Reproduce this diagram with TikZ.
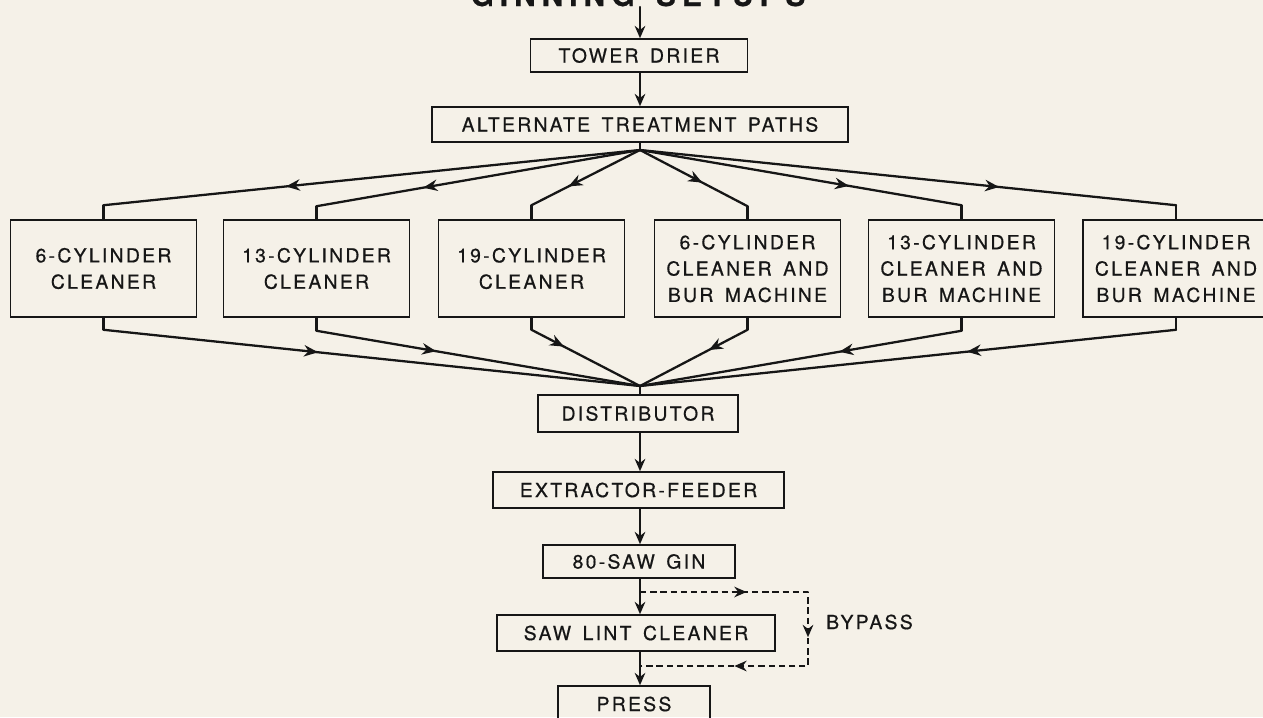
\documentclass[tikz,border=0pt]{standalone}
\usepackage{fontspec}
\setmainfont[LetterSpace=12,WordSpace=1.5,FakeBold=0.6]{TeX Gyre Heros}
\usetikzlibrary{arrows.meta}
\usetikzlibrary{decorations.markings}
\definecolor{paper}{RGB}{245,241,232}
\definecolor{ink}{RGB}{22,22,22}
\tikzset{midarrow/.style={postaction={decorate,decoration={markings,
  mark=at position #1 with {\arrow{Stealth[length=8pt,width=6.5pt]}}}}}}

\begin{document}
\begin{tikzpicture}[x=0.02cm, y=-0.02cm]

\tikzstyle{box}=[draw=ink, line width=0.9pt, inner sep=0pt, text=ink, align=center, font=\fontsize{11}{15}\selectfont]
\tikzstyle{unit}=[box, minimum width=3.72cm, minimum height=1.94cm]
\tikzstyle{flow}=[draw=ink, line width=1.3pt, line cap=round, line join=round]
\tikzstyle{into}=[flow, -{Stealth[length=7pt,width=6pt]}]
\tikzstyle{bydash}=[flow, line cap=butt, dash pattern=on 3.6pt off 2.2pt,
  postaction={decorate,decoration={markings,
    mark=at position 0.26 with {\arrow{Stealth[length=7pt,width=6pt]}},
    mark=at position 0.52 with {\arrow{Stealth[length=7pt,width=6pt]}},
    mark=at position 0.77 with {\arrow{Stealth[length=7pt,width=6pt]}}}}]

\fill[paper] (0,0) rectangle (1263,717);
\useasboundingbox (0,0) rectangle (1263,717);

\node[anchor=base, text=ink, font=\bfseries\fontsize{17}{17}\selectfont\addfontfeatures{LetterSpace=20}] at (638,6) (title) {GINNING SETUPS};

% main line, top
\node[box, minimum width=4.34cm, minimum height=0.66cm] at (639,55.5) (tower) {TOWER DRIER};
\node[box, minimum width=8.32cm, minimum height=0.70cm] at (640,124.5) (alt) {ALTERNATE TREATMENT PATHS};

\coordinate (feed) at (640,7);
\coordinate (fan) at (640,150);
\coordinate (col) at (640,386);

\draw[into] (feed) -- (tower.north -| fan);
\draw[into] (tower.south -| fan) -- (alt.north -| fan);
\draw[flow] (alt.south -| fan) -- (fan);

% the six cleaners
\node[unit] at (103.5,268.5) (c6) {6-CYLINDER\\CLEANER};
\node[unit] at (316.5,268.5) (c13) {13-CYLINDER\\CLEANER};
\node[unit] at (531.5,268.5) (c19) {19-CYLINDER\\CLEANER};
\node[unit] at (747.5,268.5) (b6) {6-CYLINDER\\CLEANER AND\\BUR MACHINE};
\node[unit] at (961.5,268.5) (b13) {13-CYLINDER\\CLEANER AND\\BUR MACHINE};
\node[unit] at (1176,268.5) (b19) {19-CYLINDER\\CLEANER AND\\BUR MACHINE};

\coordinate (c6in) at ([yshift=0.28cm]c6.north);
\coordinate (c13in) at ([yshift=0.26cm]c13.north);
\coordinate (c19in) at ([yshift=0.28cm]c19.north);
\coordinate (b6in) at ([yshift=0.26cm]b6.north);
\coordinate (b13in) at ([yshift=0.28cm]b13.north);
\coordinate (b19in) at ([yshift=0.28cm]b19.north);

\coordinate (c6out) at ([yshift=-0.24cm]c6.south);
\coordinate (c13out) at ([yshift=-0.26cm]c13.south);
\coordinate (c19out) at ([yshift=-0.24cm]c19.south);
\coordinate (b6out) at ([yshift=-0.24cm]b6.south);
\coordinate (b13out) at ([yshift=-0.26cm]b13.south);
\coordinate (b19out) at ([yshift=-0.24cm]b19.south);

% out of the fan
\draw[flow, midarrow=0.66] (fan) -- (c6in);
\draw[flow, midarrow=0.67] (fan) -- (c13in);
\draw[flow, midarrow=0.66] (fan) -- (c19in);
\draw[flow, midarrow=0.58] (fan) -- (b6in);
\draw[flow, midarrow=0.65] (fan) -- (b13in);
\draw[flow, midarrow=0.67] (fan) -- (b19in);

\draw[flow] (c6in) -- (c6.north) (c6.south) -- (c6out);
\draw[flow] (c13in) -- (c13.north) (c13.south) -- (c13out);
\draw[flow] (c19in) -- (c19.north) (c19.south) -- (c19out);
\draw[flow] (b6in) -- (b6.north) (b6.south) -- (b6out);
\draw[flow] (b13in) -- (b13.north) (b13.south) -- (b13out);
\draw[flow] (b19in) -- (b19.north) (b19.south) -- (b19out);

% back together
\draw[flow, midarrow=0.40] (c6out) -- (col);
\draw[flow, midarrow=0.37] (c13out) -- (col);
\draw[flow, midarrow=0.30] (c19out) -- (col);
\draw[flow, midarrow=0.36] (b6out) -- (col);
\draw[flow, midarrow=0.38] (b13out) -- (col);
\draw[flow, midarrow=0.39] (b19out) -- (col);

% main line, bottom
\node[box, minimum width=4.00cm, minimum height=0.74cm] at (638,413.5) (dist) {DISTRIBUTOR};
\node[box, minimum width=5.82cm, minimum height=0.72cm] at (638.5,490) (extr) {EXTRACTOR-FEEDER};
\node[box, minimum width=3.84cm, minimum height=0.66cm] at (639,561.5) (gin) {80-SAW GIN};
\node[box, minimum width=5.56cm, minimum height=0.72cm] at (636,633) (slc) {SAW LINT CLEANER};
\node[box, minimum width=3.04cm, minimum height=0.72cm] at (634,704) (press) {PRESS};

\draw[flow] (col) -- (dist.north -| fan);
\draw[into] (dist.south -| fan) -- (extr.north -| fan);
\draw[into] (extr.south -| fan) -- (gin.north -| fan);
\draw[into] (gin.south -| fan) -- (slc.north -| fan);
\draw[into] (slc.south -| fan) -- (press.north -| fan);

% bypass
\coordinate (bpin) at (640,592);
\coordinate (bpout) at (640,666);
\draw[bydash] (bpin) -- ++(168,0) |- (bpout);
\node[anchor=west, text=ink, font=\fontsize{11}{15}\selectfont] at (820,622) (bypass) {BYPASS};

\end{tikzpicture}
\end{document}
